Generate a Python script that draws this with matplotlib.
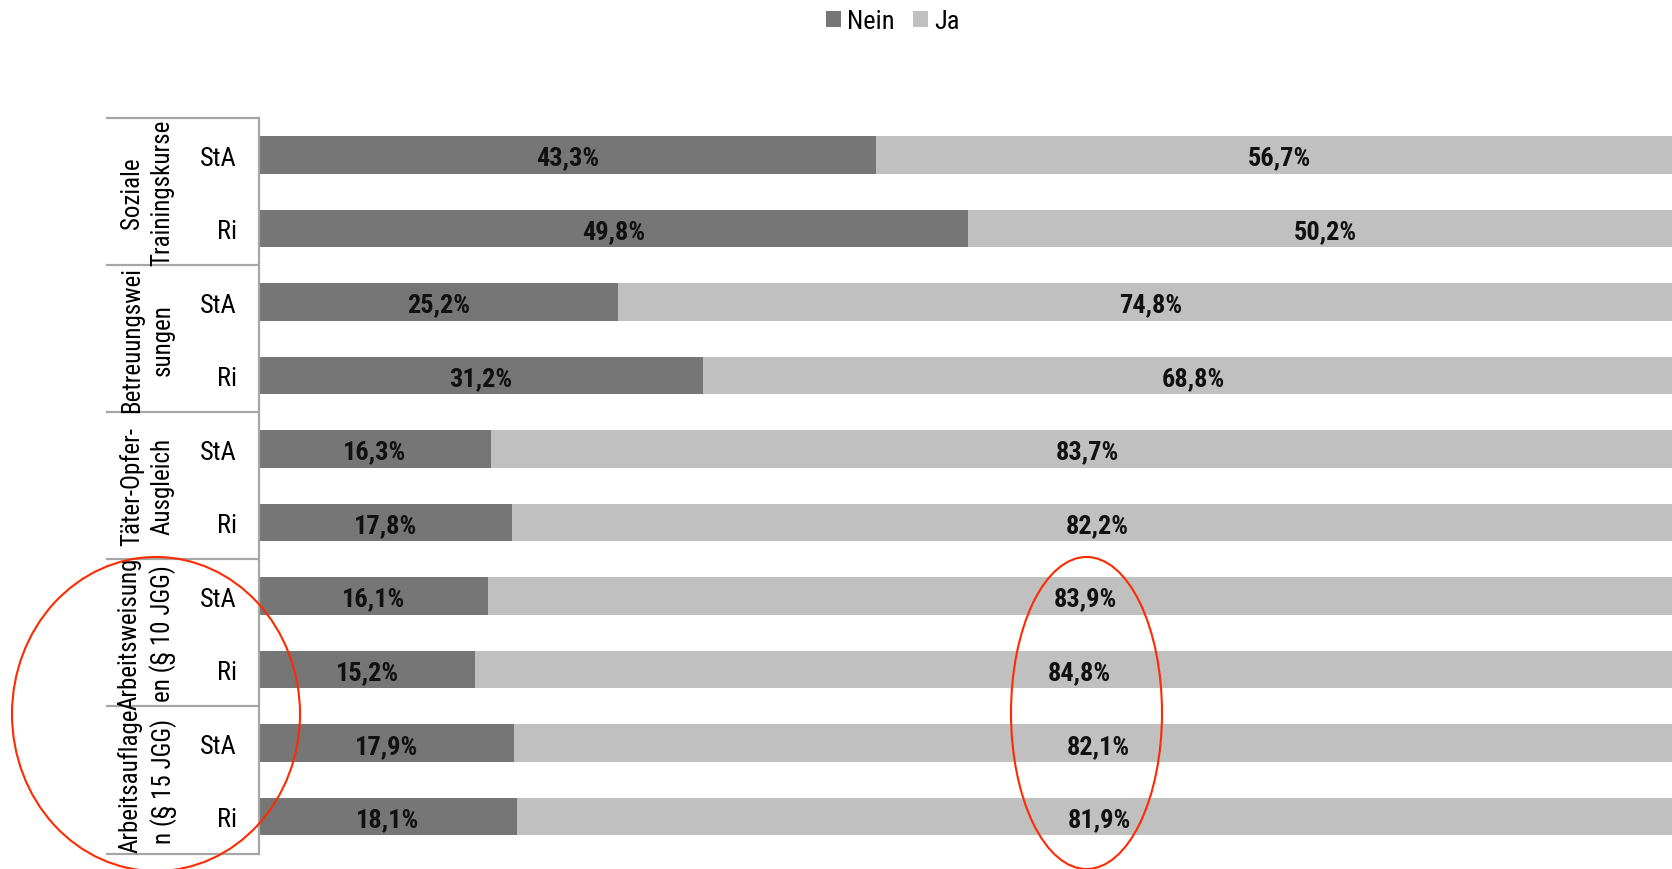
import matplotlib
matplotlib.use("Agg")
import matplotlib.pyplot as plt
from matplotlib import font_manager as fm
from matplotlib.patches import Ellipse
from matplotlib.transforms import blended_transform_factory

groups = ["Soziale\nTrainingskurse", "Betreuungswei\nsungen", "Täter-Opfer-\nAusgleich",
          "Arbeitsweisung\nen (§ 10 JGG)", "Arbeitsauflage\nn (§ 15 JGG)"]
rows = ["StA", "Ri"]
nein = [43.3, 49.8, 25.2, 31.2, 16.3, 17.8, 16.1, 15.2, 17.9, 18.1]
ja = [56.7, 50.2, 74.8, 68.8, 83.7, 82.2, 83.9, 84.8, 82.1, 81.9]


def find_narrow(bold):
    prefs = ['Liberation Sans Narrow', 'Arial Narrow', 'Roboto Condensed', 'Open Sans Condensed',
             'Noto Sans Condensed', 'DejaVu Sans Condensed', 'DejaVu Sans']
    for pref in prefs:
        for f in fm.fontManager.ttflist:
            fname = f.fname.lower()
            narrowish = ('narrow' in fname or 'condensed' in fname or 'narrow' in f.name.lower()
                         or 'condensed' in f.name.lower() or str(f.stretch) in ('condensed', 'semi-condensed'))
            if not narrowish or f.name != pref and pref.split()[0] not in f.name:
                continue
            if f.style != 'normal':
                continue
            isbold = (f.weight in ('bold', 700) or (isinstance(f.weight, int) and f.weight >= 600)
                      or 'bold' in fname)
            if isbold == bold and 'oblique' not in fname and 'italic' not in fname:
                return fm.FontProperties(fname=f.fname)
    return None


fp_reg = find_narrow(False)
fp_bold = find_narrow(True)
narrow = fp_reg is not None
if fp_reg is None:
    fp_reg = fm.FontProperties(family=['Liberation Sans', 'DejaVu Sans'])
if fp_bold is None:
    fp_bold = fm.FontProperties(family=['Liberation Sans', 'DejaVu Sans'], weight='bold')

fs = 19 if narrow else 16
gfs = 18 if narrow else 14.5

W, H = 1672, 870
fig = plt.figure(figsize=(W / 100, H / 100), dpi=100)
ax_left, ax_right = 259, 1683
ax_top, ax_bot = 119.3, 854.5
ax = fig.add_axes([ax_left / W, 1 - ax_bot / H, (ax_right - ax_left) / W, (ax_bot - ax_top) / H])

dark = '#767676'
light = '#c0c0c0'
n = len(nein)
ypos = list(range(n))
b1 = ax.barh(ypos, nein, height=0.51, color=dark, label='Nein')
b2 = ax.barh(ypos, ja, left=nein, height=0.51, color=light, label='Ja')


def fmt(v):
    return f"{v:.1f}".replace('.', ',') + '%'


for i in range(n):
    ax.text(nein[i] / 2, i, fmt(nein[i]), ha='center', va='center_baseline', fontproperties=fp_bold,
            fontsize=fs, color='#111111')
    ax.text(nein[i] + ja[i] / 2, i, fmt(ja[i]), ha='center', va='center_baseline', fontproperties=fp_bold,
            fontsize=fs, color='#111111')

ax.set_xlim(0, 100)
ax.set_ylim(n - 0.5, -0.5)
ax.set_xticks([])
ax.set_yticks([])
for s in ['top', 'right', 'bottom']:
    ax.spines[s].set_visible(False)
ax.spines['left'].set_color('#a6a6a6')
ax.spines['left'].set_linewidth(1.6)

tr = blended_transform_factory(fig.transFigure, ax.transData)
for k in range(len(groups) + 1):
    yb = 2 * k - 0.5
    ax.plot([107 / W, 258 / W], [yb, yb], color='#a6a6a6', lw=1.6, transform=tr, clip_on=False)

for g, name in enumerate(groups):
    ax.text(147 / W, 2 * g + 0.5, name, rotation=90, ha='center', va='center', multialignment='center',
            fontproperties=fp_reg, fontsize=gfs, transform=tr, linespacing=1.35)
    for r, rn in enumerate(rows):
        ax.text(237 / W, 2 * g + r, rn, ha='right', va='center_baseline', fontproperties=fp_reg,
                fontsize=fs, transform=tr)

fp_leg = fp_reg.copy()
fp_leg.set_size(fs)
leg = fig.legend(handles=[b1, b2], labels=['Nein', 'Ja'], loc='center', bbox_to_anchor=(893 / W, 1 - 22 / H),
                 ncol=2, frameon=False, prop=fp_leg, handlelength=0.55, handleheight=0.55,
                 handletextpad=0.25, columnspacing=0.7)

red = '#ff2a00'
fig.add_artist(Ellipse((156 / W, 1 - 715 / H), 288 / W, 314 / H, transform=fig.transFigure,
                       fill=False, edgecolor=red, lw=1.5))
fig.add_artist(Ellipse((1086.5 / W, 1 - 714 / H), 151 / W, 312 / H, transform=fig.transFigure,
                       fill=False, edgecolor=red, lw=1.5))

fig.savefig('out.png', dpi=100, facecolor='white')
